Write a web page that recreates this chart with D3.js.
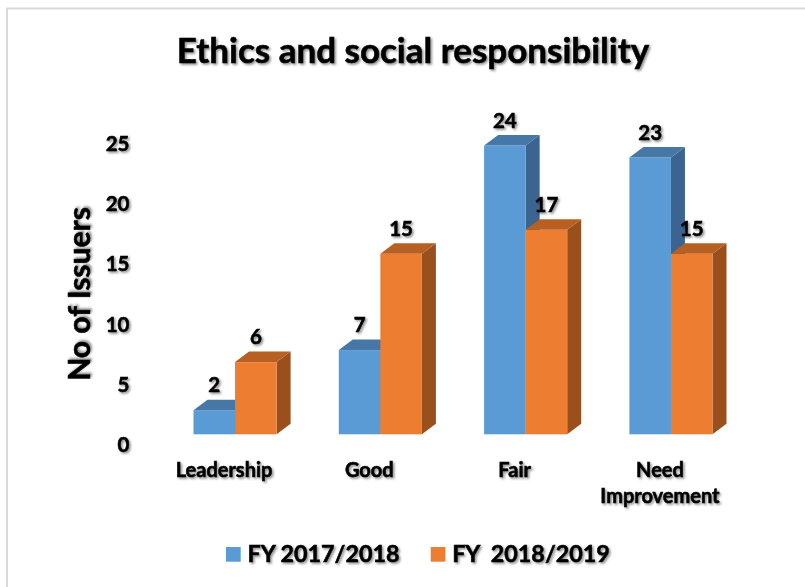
<!DOCTYPE html>
<html>
<head>
<meta charset="utf-8">
<script src="https://cdn.jsdelivr.net/npm/d3@7"></script>
<style>
  html, body { margin: 0; padding: 0; background: #fff; }
  svg { display: block; }
  text { font-family: Lato, "Open Sans", sans-serif; font-weight: bold; fill: #000; stroke: #000; stroke-width: 0.55px; }
</style>
</head>
<body>
<svg id="chart" width="805" height="587"></svg>
<script>
// Ratings and counts of issuers per fiscal year
const categories = ["Leadership", "Good", "Fair", "Need Improvement"];
const categoryLines = [["Leadership"], ["Good"], ["Fair"], ["Need", "Improvement"]];
const seriesNames = ["FY 2017/2018", "FY  2018/2019"];
const fy2017 = [2, 7, 24, 23];
const fy2018 = [6, 15, 17, 15];
const yTicks = [0, 5, 10, 15, 20, 25];

const series = [
  { name: seriesNames[0], values: fy2017, front: "#5b9bd5", top: "#4677a6", side: "#3b6590" },
  { name: seriesNames[1], values: fy2018, front: "#ed7d31", top: "#b85f22", side: "#9a501d" }
];

const svg = d3.select("#chart");

// soft drop shadow used on all text
const defs = svg.append("defs");
defs.append("filter")
  .attr("id", "txtShadow")
  .attr("x", "-10%").attr("y", "-30%")
  .attr("width", "130%").attr("height", "160%")
  .append("feDropShadow")
  .attr("dx", 1.6).attr("dy", 1.6)
  .attr("stdDeviation", 1.2)
  .attr("flood-color", "#000")
  .attr("flood-opacity", 0.45);

// frame
svg.append("line").attr("x1", 6).attr("x2", 805).attr("y1", 8.5).attr("y2", 8.5)
  .attr("stroke", "#d9d9d9").attr("stroke-width", 2);
svg.append("line").attr("x1", 7).attr("x2", 7).attr("y1", 8).attr("y2", 587)
  .attr("stroke", "#d9d9d9").attr("stroke-width", 2);

// scales
const x = d3.scaleBand()
  .domain(categories)
  .range([162.4, 743.6])
  .paddingInner(0.428)
  .paddingOuter(0.214);

const xs = d3.scaleBand()
  .domain(seriesNames)
  .range([0, x.bandwidth()]);

// front faces of the 3D columns
const yFront = d3.scaleLinear().domain([0, 25]).range([434.3, 133.5]);
// value axis on the back wall
const yAxis = d3.scaleLinear().domain([0, 25]).range([445, 143.7]);

const depthX = 14, depthY = -10.5;

// columns
const plot = svg.append("g");
series.forEach((s) => {
  const g = plot.append("g");
  categories.forEach((c, i) => {
    const v = s.values[i];
    const x0 = x(c) + xs(s.name);
    const x1 = x0 + xs.bandwidth();
    const yt = yFront(v);
    const yb = yFront(0);
    // side face
    g.append("path")
      .attr("d", `M${x1},${yt}L${x1 + depthX},${yt + depthY}L${x1 + depthX},${yb + depthY}L${x1},${yb}Z`)
      .attr("fill", s.side);
    // front face
    g.append("rect")
      .attr("x", x0).attr("y", yt)
      .attr("width", x1 - x0).attr("height", yb - yt)
      .attr("fill", s.front);
    // top face
    g.append("path")
      .attr("d", `M${x0},${yt}L${x1},${yt}L${x1 + depthX},${yt + depthY}L${x0 + depthX},${yt + depthY}Z`)
      .attr("fill", s.top);
  });
});

// value labels
series.forEach((s) => {
  svg.append("g").selectAll("text")
    .data(categories)
    .join("text")
    .attr("x", (c) => x(c) + xs(s.name) + xs.bandwidth() / 2)
    .attr("y", (c, i) => yFront(s.values[i]) - 18)
    .attr("text-anchor", "middle")
    .attr("font-size", 20.5)
    .attr("filter", "url(#txtShadow)")
    .text((c, i) => s.values[i]);
});

// y axis labels
const axisG = svg.append("g")
  .attr("transform", "translate(132,0)")
  .call(d3.axisLeft(yAxis).tickValues(yTicks).tickSize(0).tickPadding(2.5));
axisG.select(".domain").remove();
axisG.selectAll("text")
  .attr("font-family", "Lato, 'Open Sans', sans-serif")
  .attr("font-weight", "bold")
  .attr("font-size", 20.5)
  .attr("fill", "#000")
  .attr("filter", "url(#txtShadow)");

// category labels
const catG = svg.append("g");
categories.forEach((c, i) => {
  const cx = x(c) + x.bandwidth() / 2 - 11;
  const t = catG.append("text")
    .attr("x", cx)
    .attr("y", 477)
    .attr("text-anchor", "middle")
    .attr("font-size", 20)
    .attr("filter", "url(#txtShadow)");
  categoryLines[i].forEach((line, j) => {
    t.append("tspan")
      .attr("x", cx)
      .attr("dy", j === 0 ? 0 : 26)
      .text(line);
  });
});

// title
svg.append("text")
  .attr("x", 413).attr("y", 63)
  .attr("text-anchor", "middle")
  .attr("font-size", 35)
  .attr("filter", "url(#txtShadow)")
  .text("Ethics and social responsibility");

// axis title
svg.append("text")
  .attr("transform", "translate(90,294) rotate(-90)")
  .attr("text-anchor", "middle")
  .attr("font-size", 30)
  .attr("filter", "url(#txtShadow)")
  .text("No of Issuers");

// legend
const legendX = [226, 430.7];
const legend = svg.append("g");
series.forEach((s, i) => {
  legend.append("rect")
    .attr("x", legendX[i]).attr("y", 547)
    .attr("width", 14.7).attr("height", 14.7)
    .attr("fill", s.front);
  legend.append("text")
    .attr("x", legendX[i] + 21.5).attr("y", 562)
    .attr("font-size", 23.3)
    .attr("xml:space", "preserve")
    .style("white-space", "pre")
    .attr("filter", "url(#txtShadow)")
    .text(s.name);
});
</script>
</body>
</html>
